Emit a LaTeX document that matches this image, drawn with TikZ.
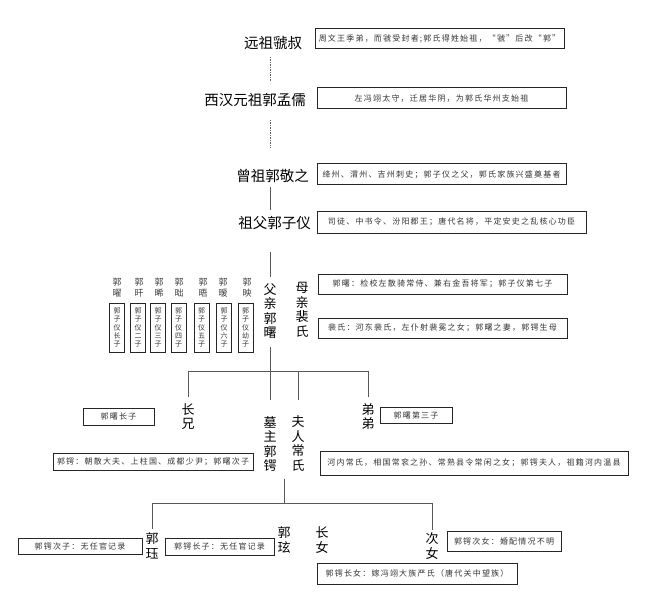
\documentclass[tikz,border=0pt]{standalone}
\usepackage{fontspec}
\setmainfont{Noto Sans CJK SC}
\newfontfamily\boxfont[LetterSpace=15]{Noto Sans CJK SC}
\usetikzlibrary{calc}

\begin{document}
\begin{tikzpicture}[x=1pt,y=-1pt,
  gen/.style={inner sep=0pt,font=\fontsize{14.5}{14.5}\selectfont},
  vgen/.style={inner sep=0pt,align=center,font=\fontsize{13}{14.5}\selectfont},
  sonname/.style={inner sep=0pt,align=center,text=black!75,font=\fontsize{9}{11}\selectfont},
  sonbox/.style={draw=black!85,line width=0.9pt,minimum width=15pt,minimum height=49pt,inner sep=0pt,align=center,text=black!80,font=\fontsize{7}{8.2}\selectfont},
  infobox/.style={draw=black!85,line width=1pt,inner sep=0pt,text=black!80,font=\boxfont\fontsize{8}{8}\selectfont},
  conn/.style={draw=black!65,line width=1pt},
  dotconn/.style={draw=black!60,line width=1pt,dash pattern=on 1.5pt off 1pt}]

  \useasboundingbox (0,0) rectangle (650,604);
  \coordinate (spine) at (270,0);

  % ancestors
  \node[gen] (yuanzu) at (273,43) {远祖虢叔};
  \node[infobox,minimum width=249pt,minimum height=20pt] (yuanzubox) at (439.5,39) {周文王季弟，而虢受封者;郭氏得姓始祖，“虢”后改“郭”};
  \node[gen] (xihan) at (255,100) {西汉元祖郭孟儒};
  \node[infobox,minimum width=249pt,minimum height=21pt] (xihanbox) at (441.5,98.5) {左冯翊太守，迁居华阴，为郭氏华州支始祖};
  \node[gen] (zengzu) at (272.5,176) {曾祖郭敬之};
  \node[infobox,minimum width=249pt,minimum height=21pt] (zengzubox) at (441.5,174.5) {绛州、渭州、吉州刺史；郭子仪之父，郭氏家族兴盛奠基者};
  \node[gen] (zufu) at (274.5,223) {祖父郭子仪};
  \node[infobox,minimum width=269pt,minimum height=22pt] (zufubox) at (451.5,222) {司徒、中书令、汾阳郡王；唐代名将，平定安史之乱核心功臣};

  \draw[dotconn,shorten <=14pt,shorten >=18pt] (yuanzu.center -| spine) -- (xihan.center -| spine);
  \draw[dotconn,shorten <=20pt,shorten >=28pt] (xihan.center -| spine) -- (zengzu.center -| spine);
  \draw[conn,shorten <=11pt,shorten >=13pt] (zengzu.center -| spine) -- (zufu.center -| spine);

  % parents
  \node[vgen] (fuqin) at (270,311) {父\\亲\\郭\\曙};
  \node[vgen] (muqin) at (302,310) {母\\亲\\裴\\氏};
  \node[infobox,minimum width=249pt,minimum height=20pt] (fuqinbox) at (442.5,284) {郭曙：检校左散骑常侍、兼右金吾将军；郭子仪第七子};
  \node[infobox,minimum width=249pt,minimum height=20pt] (muqinbox) at (442.5,328) {裴氏：河东裴氏，左仆射裴冕之女；郭曙之妻，郭锷生母};
  \draw[conn,shorten <=29pt,shorten >=34pt] (zufu.center -| spine) -- (fuqin.center);

  % brothers of the father
  \node[sonname] (son1) at (117,287.5) {郭\\曜};
  \node[sonname] (son2) at (139,287.5) {郭\\旰};
  \node[sonname] (son3) at (159,287.5) {郭\\晞};
  \node[sonname] (son4) at (179,287.5) {郭\\昢};
  \node[sonname] (son5) at (203,287.5) {郭\\晤};
  \node[sonname] (son6) at (223,287.5) {郭\\暧};
  \node[sonname] (son7) at (247,287.5) {郭\\映};
  \node[sonbox] (son1box) at (117,327.5) {郭\\子\\仪\\长\\子};
  \node[sonbox] (son2box) at (138,327.5) {郭\\子\\仪\\二\\子};
  \node[sonbox] (son3box) at (158,327.5) {郭\\子\\仪\\三\\子};
  \node[sonbox] (son4box) at (178.5,327.5) {郭\\子\\仪\\四\\子};
  \node[sonbox] (son5box) at (201.5,327.5) {郭\\子\\仪\\五\\子};
  \node[sonbox] (son6box) at (224,327.5) {郭\\子\\仪\\六\\子};
  \node[sonbox] (son7box) at (245.5,327.5) {郭\\子\\仪\\幼\\子};

  % tomb owner and siblings
  \node[vgen] (zhangxiong) at (188,416.5) {长\\兄};
  \node[vgen] (muzhu) at (270,444) {墓\\主\\郭\\锷};
  \node[vgen] (furen) at (298,443.5) {夫\\人\\常\\氏};
  \node[vgen] (didi) at (368,416.5) {弟\\弟};
  \node[infobox,minimum width=71pt,minimum height=17pt] (zhangxiongbox) at (118.5,416.5) {郭曙长子};
  \node[infobox,minimum width=200pt,minimum height=17pt] (muzhubox) at (153,461.5) {郭锷：朝散大夫、上柱国、成都少尹；郭曙次子};
  \node[infobox,minimum width=72pt,minimum height=16pt] (didibox) at (416,415) {郭曙第三子};
  \node[infobox,minimum width=308pt,minimum height=24pt] (furenbox) at (474,463) {河内常氏，相国常衮之孙、常熟县令常闲之女；郭锷夫人，祖籍河内温县};

  \draw[conn] ([yshift=-8pt]fuqin.south) -- ([yshift=-33pt]fuqin.south) coordinate (fork);
  \draw[conn] ([yshift=6pt]zhangxiong.north) |- (fork) -| ([yshift=6pt]didi.north);
  \draw[conn] (fork) -- ([yshift=16pt]muzhu.north);
  \draw[conn] (fork -| furen.north) -- ([yshift=16pt]furen.north);

  % children
  \node[vgen] (guojue) at (152,546) {郭\\珏};
  \node[vgen] (guoxuan) at (284,540) {郭\\玹};
  \node[vgen] (zhangnv) at (322,540) {长\\女};
  \node[vgen] (cinv) at (432,546) {次\\女};
  \node[infobox,minimum width=124pt,minimum height=16pt] (guojuebox) at (80,546) {郭锷次子：无任官记录};
  \node[infobox,minimum width=109pt,minimum height=17pt] (guoxuanbox) at (219.5,546.5) {郭锷长子：无任官记录};
  \node[infobox,minimum width=114pt,minimum height=20pt] (cinvbox) at (504,541) {郭锷次女：婚配情况不明};
  \node[infobox,minimum width=200pt,minimum height=21pt] (zhangnvbox) at (417,573.5) {郭锷长女：嫁冯翊大族严氏（唐代关中望族）};

  \draw[conn] ($(muzhu.south)!.5!(furen.south)+(0,7)$) -- ++(0,25) coordinate (fork2);
  \draw[conn] ([yshift=4pt]guojue.north) |- (fork2) -| ([yshift=3pt]cinv.north);

\end{tikzpicture}
\end{document}
